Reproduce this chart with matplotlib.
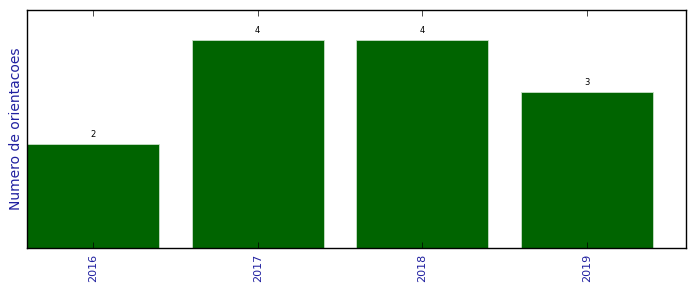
import matplotlib
matplotlib.use('Agg')
from matplotlib import pyplot as plt
import numpy as np

plt.style.use('classic')

anos = ['2016', '2017', '2018', '2019']
orientacoes = [2, 4, 4, 3]

fig = plt.figure(figsize=(6.96, 2.92), dpi=100)
ax = fig.add_axes([0.0388, 0.1507, 0.9468, 0.8151])

x = np.arange(len(anos))
barras = ax.bar(x, orientacoes, width=0.8, align='center', color='#006400', edgecolor='#c8e0c8', linewidth=0.6)

for b, v in zip(barras, orientacoes):
    ax.text(b.get_x() + b.get_width() / 2, v + 0.1, str(v), ha='center', va='bottom', fontsize=6)

ax.set_xlim(-0.4, 3.6)
ax.set_ylim(0, 4.58)
ax.set_xticks(x)
ax.set_xticklabels(anos, rotation=90, color='#2020a0', fontsize=8)
ax.set_yticks([])
ax.set_ylabel('Numero de orientacoes', color='#2020a0', fontsize=10, labelpad=3)
ax.tick_params(axis='x', direction='in', top=True, bottom=True, length=4)

plt.savefig('out.png', dpi=100)
